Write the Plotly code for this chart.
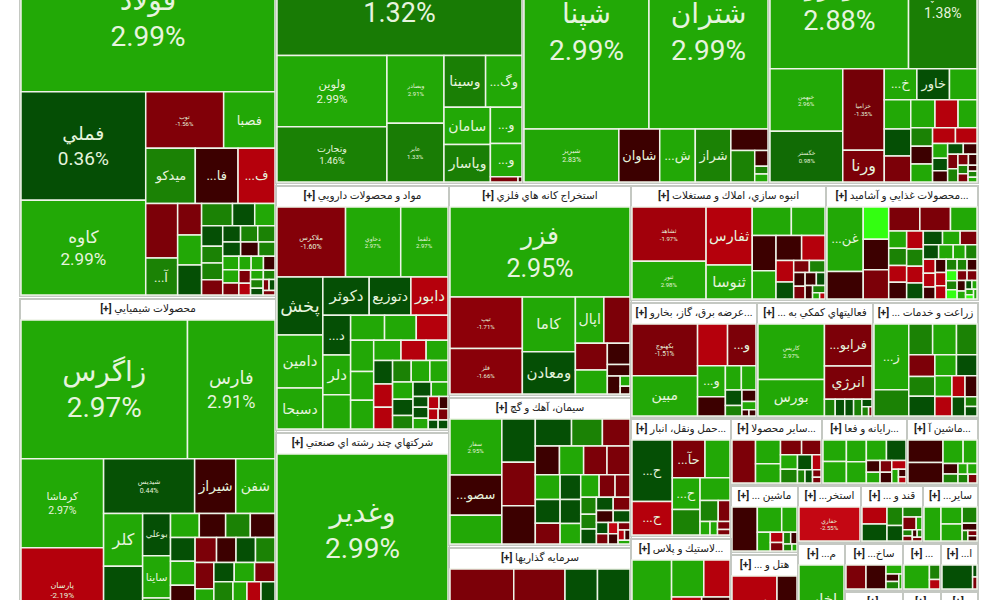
#!/usr/bin/env python3
# Market map: one treemap per industry, cropped at the top like the reference screenshot
import plotly.graph_objects as go
from plotly.colors import sample_colorscale

# fold 1: basic metals
s1_title = "فلزات اساسي"
s1_names = ["فولاد", "فملي", "کاوه", "توب", "فصبا", "ميدکو", "...فا", "...ف", "", "...آ"]
s1_weights = [347, 126, 110, 41, 27, 25.5, 22, 19, 16.2, 11, 7, 6.7, 6.7, 6.4, 4.6, 4.2, 4, 3.3, 3.3, 3, 2.7, 2.6, 2.6, 2.4, 2.4, 2.2, 1.6, 1.6, 1.5, 2, 2, 1.8, 1.4, 1.3, 1.1, 1, 1, 0.8, 0.6, 0.6, 0.5]
s1_pcts = [2.99, 0.36, 2.99, -1.56, 2.9, 1.5, -0.3, -2.2, -1.5, 1.5, -1.5, 2.9, 0.4, 1.5, 0.4, 2.9, 0.4, 1.5, 1.5, -1.5, 0.4, 1.5, 1.5, 0.4, -0.3, 1.5, 2.9, 2.9, -0.3, 2.9, 2.9, -1.5, -1.5, -2.2, 2.9, 1.5, 1.5, 0.4, -1.5, 0.4, -1.5]

s2_title = "محصولات شيميايي"
s2_names = ["زاگرس", "فارس", "کرماشا", "پارسان", "شيديس", "شيراز", "شفن", "کلر", "بوعلي", "ساينا", "شفام"]
s2_weights = [236, 124, 75, 72, 51, 23, 22, 21, 12, 12, 12.6, 14, 10, 6.4, 6, 5.5, 5, 7, 6, 5, 4.5, 4, 6, 6, 6, 6, 5, 5, 4, 4, 4, 4, 3, 3, 3, 3, 3, 3, 2, 2, 2, 2, 2]
s2_pcts = [2.97, 2.91, 2.97, -2.19, 0.44, -0.3, 2.9, 2.9, 0.4, 2.9, 2.9, 0.4, 1.5, -0.3, 1.5, -1.5, -0.3, 2.9, -0.3, 0.4, 2.9, 1.5, 0.4, 2.9, -0.3, 1.5, 1.5, -1.5, 0.4, 2.9, -1.5, 1.5, 1.5, -0.3, 2.9, -2.2, 0.4, 2.9, 2.9, 1.5, -1.5, 0.4, 2.9]

s3_title = "بانکها و موسسات اعتباري"
s3_names = ["وبملت", "ولوين", "وتجارت", "وبصادر", "عابر", "وسينا", "...وگ", "سامان", "وپاسار", "...و", "...و"]
s3_weights = [282, 75, 58, 37, 32, 20.6, 18, 16.6, 16.6, 11, 10, 1.4, 0.2]
s3_pcts = [1.32, 2.99, 1.46, 2.91, 1.33, 1.4, 2.9, 2.9, 1.4, 2.9, 2.9, -1.5, -0.3]

s4_title = "مواد و محصولات دارويي"
s4_names = ["ملاکرس", "دحاوي", "دلقما", "پخش", "دامين", "دسبحا", "دکوثر", "دتوزيع", "دابور", "...د", "دلر"]
s4_weights = [43.5, 35, 30, 24, 22, 17, 16, 14.4, 12.8, 10, 10, 8.6, 7.7, 7.2, 7.2, 6.5, 6, 6, 5, 4.6, 4, 3.6, 3.5, 3.2, 3, 4, 4, 3.7, 3.6, 2.5, 2.4, 2.2, 1.5, 1.5, 1.5, 1.2, 1, 1, 1, 0.8, 0.8]
s4_pcts = [-1.6, 2.97, 2.97, 0.4, 2.9, 2.9, 0.4, 0.4, -2.2, 0.4, 2.9, 2.9, 2.9, 2.9, -2.2, 2.9, 2.9, 2.9, 2.9, -2.2, 2.9, 1.5, 2.9, 2.9, 0.4, 0.4, -2.2, -2.2, 2.9, 1.5, 0.4, 2.9, 0.4, 0.4, 2.9, -2.2, -0.3, -2.2, -1.5, 0.4, 0.4]

s5_title = "شرکتهاي چند رشته اي صنعتي"
s5_names = ["وغدير"]
s5_weights = [100]
s5_pcts = [2.99]

s6_title = "استخراج کانه هاي فلزي"
s6_names = ["فزر", "تيپ", "فلز", "کاما", "ومعادن", "اپال"]
s6_weights = [148, 34, 30, 26.5, 20.4, 12, 11, 7.8, 4.4, 7, 2.4, 2.1, 0.9, 0.7]
s6_pcts = [2.95, -1.71, -1.66, 2.9, 0.4, 2.9, -1.5, -1.5, -0.3, 2.9, -0.3, -0.3, 2.9, -0.3]

s7_title = "سيمان، آهك و گچ"
s7_names = ["سفار", "...سصو"]
s7_weights = [26, 18.7, 13.4, 13, 13, 11.5, 8.8, 7.5, 6.2, 6.7, 6.2, 6, 5.9, 5.5, 4.6, 3.7, 3.2, 3, 5.3, 4.4, 2.4, 2.1, 2, 4.6, 3.8, 2.1, 1.8, 1.8, 2, 1.2, 1.1, 1, 0.9, 0.8, 0.6, 0.5, 0.4]
s7_pcts = [2.95, -0.3, 2.9, 0.4, -1.5, -0.3, 0.4, 1.5, -0.3, -1.5, 2.9, -1.5, -1.5, 2.9, -1.5, 2.9, -1.5, -1.5, 0.4, 0.4, 1.5, 1.5, 0.4, 0.4, 2.9, 0.4, -0.3, 0.4, -1.5, 0.4, -1.5, -2.5, -0.3, -1.5, -2.2, -0.3, 2.9]

s8_title = "سرمايه گذاريها"
s8_names = ["ونيکي", "وسه"]
s8_weights = [51, 30, 11, 10, 10, 6, 6, 6, 5, 4, 3, 2]
s8_pcts = [-1.5, -1.5, 0.4, 0.4, 0.4, 1.5, 0.4, -2.2, 2.9, 2.9, 1.5, 0.4]

s9_title = "فراورده هاي نفتي"
s9_names = ["شپنا", "شتران", "شبريز", "شاوان", "...ش", "شراز"]
s9_weights = [232, 221, 48, 20.7, 18, 18, 7.2, 7.6, 2, 1, 1]
s9_pcts = [2.99, 2.99, 2.83, -0.3, 2.9, 1.5, 1.5, -0.3, -0.3, 1.5, 2.9]

s10_title = "خودرو و ساخت قطعات"
s10_names = ["خودرو", "خساپا", "خبهمن", "خگستر", "خزاميا", "ورنا", "...خ", "خاور"]
s10_weights = [170, 84, 43, 35, 32, 12.5, 9.6, 9.6, 8.1, 7.3, 6.4, 6.1, 5, 6.8, 3.7, 3.4, 3.2, 6.5, 3.8, 3.7, 2.1, 1.6, 1.4, 1.8, 1.4, 1.3, 1.6, 1.1, 0.9, 0.8, 0.8, 0.5, 0.5, 0.4]
s10_pcts = [2.88, 1.38, 2.96, 0.98, -1.35, -1.5, 2.9, 0.4, 2.9, 2.9, 2.9, -2.2, 2.9, 0.4, -0.3, -2.2, -2.2, -1.5, 1.5, 2.9, 2.9, -0.3, -0.3, 0.4, -1.5, 1.5, 0.4, -1.5, -0.3, 1.5, -1.5, -0.3, 1.5, 2.9]

s11_title = "انبوه سازي، املاك و مستغلات"
s11_names = ["ثشاهد", "ثنور", "ثفارس", "ثنوسا"]
s11_weights = [36, 25, 24, 14, 10, 8.6, 7.5, 5.7, 5.2, 6, 3.4, 1.7, 1.7, 1.4, 1.3, 1, 2.7, 1.3, 0.9, 0.8, 0.4, 0.3]
s11_pcts = [-1.97, 2.98, -2.2, 2.9, 2.9, 2.9, -0.3, -0.3, -2.2, 2.9, -2.2, -1.5, 1.5, -0.3, -1.5, 0.4, 0.4, -0.3, -0.3, 1.5, 2.9, -2.2]

s12_title = "محصولات غذايي و آشاميد..."
s12_names = ["...غن"]
s12_weights = [21, 9, 7, 6.7, 6.6, 7.4, 6.7, 5.7, 2.8, 2.5, 2.7, 2.1, 2.4, 2.8, 2.7, 2, 1.9, 1.5, 1.3, 2.7, 2.6, 1.6, 1.5, 1.3, 0.9, 0.9, 2.4, 2.2, 1.5, 1.3, 1.1, 0.9, 0.8, 1.3, 1, 1, 0.9, 0.6, 1, 0.5, 0.4, 0.4, 0.3, 0.3]
s12_pcts = [2.9, -0.3, -0.3, -1.5, -1.5, 4.8, -1.5, 2.9, 2.9, -2.2, -2.2, -1.5, 0.4, 1.5, -0.3, 0.4, 2.9, 1.5, -0.3, -2.2, 1.5, 2.9, -2.2, -0.3, 1.5, 4.8, 0.4, 2.9, -2.2, -2.2, 1.5, -1.5, -0.3, -2.2, 1.5, -0.3, -1.5, 2.9, 4.8, 0.4, 2.9, 2.9, 4.8, 2.9]

s13_title = "عرضه برق، گاز، بخارو..."
s13_names = ["بکهنوج", "مبين", "", "...و", "...و"]
s13_weights = [31.5, 24.5, 11.6, 11, 8, 3.6, 3.3, 5, 2.4, 1.6, 1.5, 1.1, 0.4, 0.4]
s13_pcts = [-1.51, 2.9, -2.2, -1.5, 2.9, 2.9, 2.9, -0.3, 0.4, 1.5, -0.3, 2.9, -0.3, -0.3]

s14_title = "... فعاليتهاي کمکي به"
s14_names = ["کاريس", "بورس", "...فرابو", "انرژي"]
s14_weights = [35, 23, 19, 15, 1.7, 1.5, 1.4, 1.3, 0.7, 0.6, 0.3]
s14_pcts = [2.97, 2.9, -1.5, -1.5, 1.5, 0.4, 0.4, 1.5, 0.4, 1.5, -1.5]

s15_title = "... زراعت و خدمات"
s15_names = ["...ز"]
s15_weights = [20, 8, 6.4, 6.4, 5.5, 5, 4.5, 4.5, 4, 3.8, 3.1, 2.9, 2.4, 2.2, 2.2, 1, 1]
s15_pcts = [2.9, 1.5, 1.5, 2.9, 1.5, -1.5, 1.5, 0.4, 2.9, 0.4, 2.9, -2.2, -2.2, -0.3, 0.4, 1.5, 0.4]

s16_title = "حمل ونقل، انبار..."
s16_names = ["...ح", "...ح", "...حآ", "", "...ح"]
s16_weights = [22, 12, 11, 8.4, 7.8, 6.3, 6, 3.4, 2.2, 1.2, 0.9, 0.9, 0.6]
s16_pcts = [0.4, -2.2, -1.5, 2.9, 2.9, 1.5, 2.9, 1.5, -1.5, 2.9, 2.9, -1.5, -1.5]

s17_title = "ساير محصولا..."
s17_names = []
s17_weights = [8.2, 4.8, 3.9, 2.5, 2.3, 2, 1.9, 1.8, 1.1, 0.8, 0.8, 0.5, 0.4]
s17_pcts = [-1.5, 2.9, 2.9, -1.5, -1.5, 2.9, 1.5, 0.4, -2.2, 1.5, 0.4, -1.5, -1.5]

s18_title = "رايانه و فعا..."
s18_names = []
s18_weights = [4.4, 4.4, 3.8, 3.7, 3.6, 3.5, 1.4, 1.3, 1.2, 1.1, 1.1, 0.8, 0.5, 0.4]
s18_pcts = [2.9, 2.9, 2.9, 2.9, 2.9, 0.4, -0.3, 2.9, -1.5, -0.3, -2.2, 2.9, -0.3, -2.2]

s19_title = "ماشين آ..."
s19_names = []
s19_weights = [7, 6.4, 4.2, 2.9, 1.4, 1.2, 0.9, 0.9, 0.8, 0.7]
s19_pcts = [-0.3, -0.3, 2.9, 2.9, -0.3, 1.5, 2.9, 2.9, 1.5, -1.5]

s20_title = "... ماشين"
s20_names = []
s20_weights = [9.2, 5.1, 3.2, 2, 1.1, 0.9, 0.7, 0.6, 0.5, 0.3]
s20_pcts = [-0.3, 2.9, 2.9, 2.9, -2.2, -1.5, 1.5, -0.3, 1.5, 2.9]

s21_title = "...استخر"
s21_names = ["حفاري"]
s21_weights = [20]
s21_pcts = [-2.55]

s22_title = "... قند و"
s22_names = []
s22_weights = [3.5, 3.5, 2.4, 2, 1.6, 1.4, 0.6, 0.5, 0.4, 0.3, 0.3, 0.3]
s22_pcts = [-2.2, 0.4, 1.5, 0.4, 1.5, -1.5, 2.9, 1.5, -1.5, -0.3, 1.5, -1.5]

s23_title = "...ساير"
s23_names = []
s23_weights = [4.8, 3, 3, 2, 0.9, 0.5, 0.4, 0.4]
s23_pcts = [2.9, 2.9, 2.9, 1.5, -0.3, 1.5, -1.5, -0.3]

s24_title = "لاستيك و پلاس..."
s24_names = []
s24_weights = [21, 8, 6.5, 5, 3.5, 3, 3, 2]
s24_pcts = [2.9, 2.9, -2.2, -2.2, 0.4, -0.3, 0.4, 2.9]

s25_title = "... هتل و"
s25_names = ["گدنا"]
s25_weights = [27, 12]
s25_pcts = [-2.2, -0.3]

s26_title = "...م"
s26_names = ["اخابر"]
s26_weights = [31, 3]
s26_pcts = [2.9, 0.4]

s27_title = "...ساخ"
s27_names = []
s27_weights = [5, 5, 1.5, 1, 1, 0.5]
s27_pcts = [-1.5, -0.3, 3.4, -0.3, 1.5, 2.9]

s28_title = "..."
s28_names = []
s28_weights = [6, 1.5, 1]
s28_pcts = [2.9, 1.5, -2.2]

s29_title = "...ا"
s29_names = []
s29_weights = [7, 0.5, 0.5]
s29_pcts = [0.4, 0.4, -1.5]

s30_title = ""
s30_names = []
s30_weights = [1]
s30_pcts = [2.9]

# panel layout on the page, in screenshot pixels: x0, y0, x1, y1 (header included)
PANELS = [
    (s1_title, s1_names, s1_weights, s1_pcts, (20, -76, 276, 296)),
    (s2_title, s2_names, s2_weights, s2_pcts, (20, 299, 276, 634)),
    (s3_title, s3_names, s3_weights, s3_pcts, (276, -86, 523, 183)),
    (s4_title, s4_names, s4_weights, s4_pcts, (276, 186, 449, 430)),
    (s5_title, s5_names, s5_weights, s5_pcts, (276, 433, 449, 608)),
    (s6_title, s6_names, s6_weights, s6_pcts, (449, 186, 631, 395)),
    (s7_title, s7_names, s7_weights, s7_pcts, (449, 398, 631, 545)),
    (s8_title, s8_names, s8_weights, s8_pcts, (449, 548, 631, 660)),
    (s9_title, s9_names, s9_weights, s9_pcts, (523, -86, 769, 183)),
    (s10_title, s10_names, s10_weights, s10_pcts, (769, -82, 978, 183)),
    (s11_title, s11_names, s11_weights, s11_pcts, (631, 186, 826, 300)),
    (s12_title, s12_names, s12_weights, s12_pcts, (826, 186, 978, 300)),
    (s13_title, s13_names, s13_weights, s13_pcts, (631, 303, 757, 417)),
    (s14_title, s14_names, s14_weights, s14_pcts, (757, 303, 873, 417)),
    (s15_title, s15_names, s15_weights, s15_pcts, (873, 303, 978, 417)),
    (s16_title, s16_names, s16_weights, s16_pcts, (631, 419, 731, 536)),
    (s17_title, s17_names, s17_weights, s17_pcts, (731, 419, 822, 484)),
    (s18_title, s18_names, s18_weights, s18_pcts, (822, 419, 907, 484)),
    (s19_title, s19_names, s19_weights, s19_pcts, (907, 419, 978, 484)),
    (s20_title, s20_names, s20_weights, s20_pcts, (731, 486, 798, 552)),
    (s21_title, s21_names, s21_weights, s21_pcts, (798, 486, 861, 542)),
    (s22_title, s22_names, s22_weights, s22_pcts, (861, 486, 923, 542)),
    (s23_title, s23_names, s23_weights, s23_pcts, (923, 486, 978, 542)),
    (s24_title, s24_names, s24_weights, s24_pcts, (631, 539, 731, 640)),
    (s25_title, s25_names, s25_weights, s25_pcts, (731, 555, 798, 640)),
    (s26_title, s26_names, s26_weights, s26_pcts, (798, 544, 845, 640)),
    (s27_title, s27_names, s27_weights, s27_pcts, (845, 544, 903, 590)),
    (s28_title, s28_names, s28_weights, s28_pcts, (903, 544, 941, 590)),
    (s29_title, s29_names, s29_weights, s29_pcts, (941, 544, 978, 590)),
    (s30_title, s30_names, s30_weights, s30_pcts, (845, 592, 903, 640)),
    (s30_title, s30_names, s30_weights, s30_pcts, (903, 592, 941, 640)),
    (s30_title, s30_names, s30_weights, s30_pcts, (941, 592, 978, 640)),
]

# cells that print name and percent, with their font size
PCT_FONT = {
    "فولاد": 28, "فملي": 19, "کاوه": 17, "توب": 6, "زاگرس": 28, "فارس": 18, "کرماشا": 10.5, "پارسان": 8,
    "شيديس": 7, "وبملت": 27, "ولوين": 11.5, "وتجارت": 9.5, "وبصادر": 6, "عابر": 6, "ملاکرس": 7,
    "دحاوي": 6, "دلقما": 6, "وغدير": 28, "فزر": 25, "تيپ": 6, "فلز": 6, "سفار": 6, "شپنا": 28,
    "شتران": 28, "شبريز": 7, "خودرو": 27, "خساپا": 14, "خبهمن": 6, "خگستر": 6, "خزاميا": 6, "ثشاهد": 6,
    "ثنور": 6, "بکهنوج": 6.5, "کاريس": 6, "حفاري": 6,
}
# bigger name-only cells; the rest use 13
NAME_FONT = {
    "پخش": 18, "کلر": 16, "دکوثر": 15, "دامين": 15, "دسبحا": 14, "دلر": 15, "دابور": 15, "دتوزيع": 15,
    "ثفارس": 16, "ثنوسا": 15, "ورنا": 16, "گدنا": 15, "کاما": 15, "اپال": 15, "ومعادن": 15, "شيراز": 14,
    "شفن": 14, "مبين": 14, "بورس": 14, "انرژي": 14, "سامان": 14, "وپاسار": 14, "وسينا": 14, "اخابر": 15,
}

FIG_W = 1000
FIG_H = 760
CROP_TOP = 95   # the picture starts this far down the map

# colour ramp over the daily change, -3% to +5%
CMIN, CMAX = -3.0, 5.0
RAMP = [
    [-3.0, "#d8101c"], [-2.2, "#b5000c"], [-1.5, "#7c0008"], [-0.3, "#3c0000"], [0.0, "#3c0000"],
    [0.01, "#044704"], [0.4, "#054f05"], [1.4, "#1a7f05"], [2.9, "#22a806"], [3.6, "#24b006"], [4.8, "#33ff11"],
    [5.0, "#33ff11"],
]
COLORSCALE = [[(v - CMIN) / (CMAX - CMIN), c] for v, c in RAMP]


def pct_color(v):
    return sample_colorscale(COLORSCALE, [(v - CMIN) / (CMAX - CMIN)])[0]


def panel_trace(k, title, names, weights, pcts, box):
    if len(weights) != len(pcts):
        raise ValueError(f"{title}: {len(weights)} weights, {len(pcts)} pcts")
    names = names + [""] * (len(weights) - len(names))
    root = f"p{k}"
    header = f"<b>[+]</b> {title}"
    texts, sizes = [header], [10.5]
    for n, p in zip(names, pcts):
        if n in PCT_FONT:
            texts.append(f"{n}<br>{p:.2f}%")
            sizes.append(PCT_FONT[n])
        else:
            texts.append(n)
            sizes.append(NAME_FONT.get(n, 13))
    x0, y0, x1, y1 = box
    return go.Treemap(
        ids=[root] + [f"{root}-{i}" for i in range(len(weights))],
        labels=[header] + names,
        parents=[""] + [root] * len(weights),
        values=[0] + weights,
        branchvalues="remainder",
        sort=True,
        text=texts,
        textinfo="text",
        textposition="middle center",
        textfont=dict(
            family="Roboto, 'Noto Sans', 'DejaVu Sans', sans-serif",
            size=sizes,
            color=["#222222"] + ["#e6f4de"] * len(weights),
        ),
        marker=dict(
            colors=["#ffffff"] + [pct_color(p) for p in pcts],
            line=dict(color=["#c4c8c2"] + ["#eef4e8"] * len(weights), width=[2] + [1.5] * len(weights)),
            pad=dict(t=21, l=1, r=1, b=1),
        ),
        pathbar=dict(visible=False),
        tiling=dict(packing="squarify", pad=0),
        hoverinfo="text",
        domain=dict(
            x=[x0 / FIG_W, x1 / FIG_W],
            y=[1 - (y1 + CROP_TOP) / FIG_H, 1 - (y0 + CROP_TOP) / FIG_H],
        ),
    )


fig = go.Figure([panel_trace(k, *p) for k, p in enumerate(PANELS)])
fig.update_layout(
    width=FIG_W,
    height=FIG_H,
    margin=dict(l=0, r=0, t=0, b=0),
    paper_bgcolor="#ffffff",
    font=dict(family="Roboto, 'Noto Sans', 'DejaVu Sans', sans-serif"),
)

shift = (
    "document.body.style.margin='0';document.body.style.overflow='hidden';"
    f"document.getElementById('{{plot_id}}').style.marginTop='-{CROP_TOP}px';"
)
fig.write_html("out.html", post_script=shift, config=dict(displayModeBar=False))
